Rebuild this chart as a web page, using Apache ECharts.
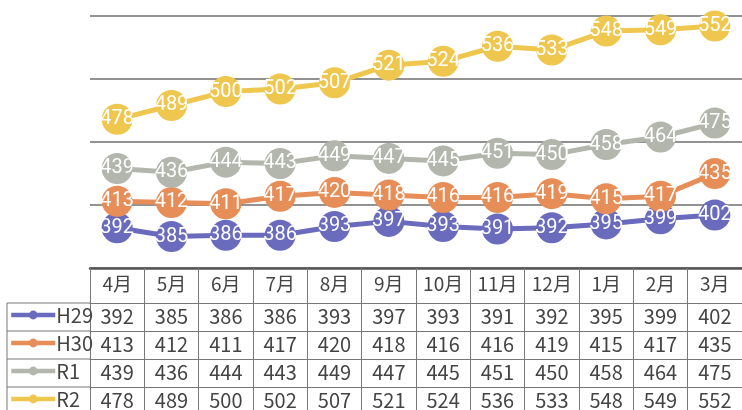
<!DOCTYPE html>
<html><head><meta charset="utf-8">
<script src="https://cdn.jsdelivr.net/npm/echarts@6/dist/echarts.min.js"></script>
<style>html,body{margin:0;padding:0;background:#fff}#c{width:742px;height:410px}</style>
</head><body><div id="c"></div>
<script>
const months = ['4月','5月','6月','7月','8月','9月','10月','11月','12月','1月','2月','3月'];
const seriesNames = ['H29','H30','R1','R2'];
const h29 = [392,385,386,386,393,397,393,391,392,395,399,402];
const h30 = [413,412,411,417,420,418,416,416,419,415,417,435];
const r1  = [439,436,444,443,449,447,445,451,450,458,464,475];
const r2  = [478,489,500,502,507,521,524,536,533,548,549,552];
const colors = ['#6a6bbd','#e78d58','#b3b6ad','#efc74f'];
const yMin = 360, yMax = 560, yStep = 50;

const allData = [h29,h30,r1,r2];
const font = 'Noto Sans CJK JP';
const labelFont = "'Liberation Sans Narrow','Roboto','Noto Sans'";
const rowH = 28, headH = 35, tableTop = 268;

const xAxes = [{
  type:'category', data:months, gridIndex:0, position:'bottom', boundaryGap:true,
  axisLine:{show:true, lineStyle:{color:'#555', width:2.5}},
  axisTick:{show:true, interval:0, alignWithLabel:false, length:headH, lineStyle:{color:'#777', width:1}},
  axisLabel:{show:true, interval:0, margin:6, fontSize:19, color:'#444', fontFamily:font}
}];
allData.forEach((vals, k) => {
  xAxes.push({
    type:'category', data:months, gridIndex:0, position:'bottom', boundaryGap:true,
    offset: headH + k*rowH,
    axisLine:{show:true, lineStyle:{color:'#777', width:1}},
    axisTick:{show:true, interval:0, alignWithLabel:false, length:rowH, lineStyle:{color:'#777', width:1}},
    axisLabel:{show:true, interval:0, margin:3, fontSize:20, color:'#444', fontFamily:font,
      formatter:(v, i) => String(vals[i])}
  });
});

const series = allData.map((vals, k) => ({
  name: seriesNames[k], type:'line', xAxisIndex:0, yAxisIndex:0, data: vals,
  clip:false, symbol:'circle', symbolSize:31,
  lineStyle:{color:colors[k], width:5},
  itemStyle:{color:colors[k]},
  label:{show:true, position:'inside', color:'#fff', fontSize:20, fontFamily:labelFont},
  emphasis:{disabled:true}, animation:false
}));

const legends = seriesNames.map((n, k) => ({
  data:[n], orient:'horizontal', left:9, top: tableTop + headH + k*rowH + 2,
  itemWidth:44, itemHeight:11, itemGap:0, padding:0, selectedMode:false,
  lineStyle:{width:4.5},
  textStyle:{fontSize:20, color:'#444', fontFamily:font, padding:[0,0,0,-4]}
}));

const chart = echarts.init(document.getElementById('c'), null, {renderer:'canvas'});
const lines = [];
const lx0 = 7, lx1 = 90;
for (let k = 0; k < 4; k++) {
  const y = tableTop + headH + k*rowH;
  lines.push({type:'line', shape:{x1:lx0, y1:y, x2:lx1, y2:y}, style:{stroke:'#777', lineWidth:1}});
}
lines.push({type:'line', shape:{x1:lx0, y1:tableTop+headH, x2:lx0, y2:410}, style:{stroke:'#777', lineWidth:1}});

chart.setOption({
  backgroundColor:'#fff',
  animation:false,
  grid:{left:90, top:16, width:662, height:252, containLabel:false},
  xAxis: xAxes,
  yAxis:{type:'value', min:yMin, max:yMax, interval:yStep,
    axisLine:{show:false}, axisTick:{show:false}, axisLabel:{show:false},
    splitLine:{show:true, lineStyle:{color:'#6e6e6e', width:1.5}}},
  legend: legends,
  series: series,
  graphic: lines
});
</script></body></html>
